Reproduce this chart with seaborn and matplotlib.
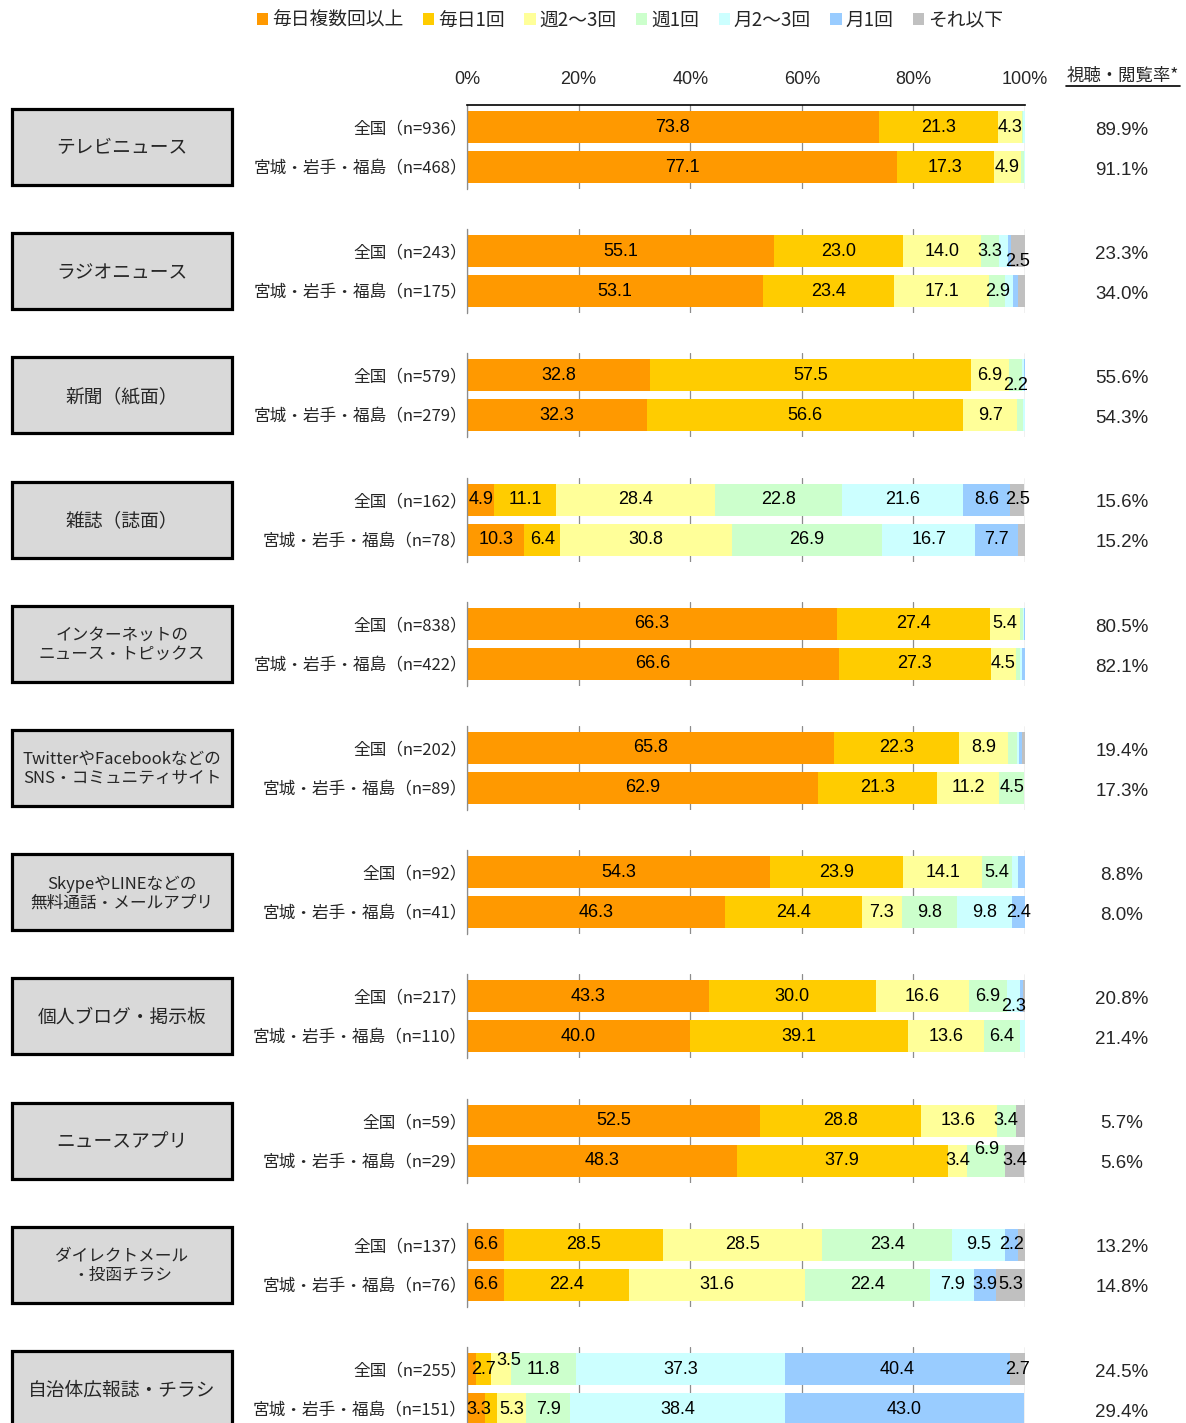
import numpy as np
import pandas as pd
import matplotlib
matplotlib.use("Agg")
import matplotlib.pyplot as plt
import matplotlib.transforms as mtransforms
from matplotlib.patches import Rectangle, Patch
from matplotlib.lines import Line2D
import seaborn as sns

sns.set_theme(style="white")
plt.rcParams["font.family"] = ["Noto Sans CJK JP", "DejaVu Sans"]

# ---- data -------------------------------------------------------------
frequency = ["毎日複数回以上", "毎日1回", "週2～3回", "週1回", "月2～3回", "月1回", "それ以下"]
colors = ["#FF9900", "#FFCC00", "#FFFF99", "#CCFFCC", "#CCFFFF", "#99CCFF", "#C0C0C0"]

media = [
    "テレビニュース",
    "ラジオニュース",
    "新聞（紙面）",
    "雑誌（誌面）",
    "インターネットの\nニュース・トピックス",
    "TwitterやFacebookなどの\nSNS・コミュニティサイト",
    "SkypeやLINEなどの\n無料通話・メールアプリ",
    "個人ブログ・掲示板",
    "ニュースアプリ",
    "ダイレクトメール\n・投函チラシ",
    "自治体広報誌・チラシ",
]
regions = ["全国", "宮城・岩手・福島"]
n_national = [936, 243, 579, 162, 838, 202, 92, 217, 59, 137, 255]
n_tohoku = [468, 175, 279, 78, 422, 89, 41, 110, 29, 76, 151]

# shares (%) per frequency class: [national, tohoku]
tv_news = [[73.8, 21.3, 4.3, 0.2, 0.4, 0.0, 0.0], [77.1, 17.3, 4.9, 0.5, 0.2, 0.0, 0.0]]
radio_news = [[55.1, 23.0, 14.0, 3.3, 1.5, 0.6, 2.5], [53.1, 23.4, 17.1, 2.9, 1.4, 0.9, 1.2]]
newspaper = [[32.8, 57.5, 6.9, 2.2, 0.4, 0.2, 0.0], [32.3, 56.6, 9.7, 1.1, 0.3, 0.0, 0.0]]
magazine = [[4.9, 11.1, 28.4, 22.8, 21.6, 8.6, 2.5], [10.3, 6.4, 30.8, 26.9, 16.7, 7.7, 1.3]]
internet_news = [[66.3, 27.4, 5.4, 0.5, 0.2, 0.2, 0.0], [66.6, 27.3, 4.5, 0.7, 0.4, 0.5, 0.0]]
sns_sites = [[65.8, 22.3, 8.9, 1.5, 0.5, 0.5, 0.5], [62.9, 21.3, 11.2, 4.5, 0.0, 0.0, 0.0]]
messaging_apps = [[54.3, 23.9, 14.1, 5.4, 1.1, 1.2, 0.0], [46.3, 24.4, 7.3, 9.8, 9.8, 2.4, 0.0]]
blogs = [[43.3, 30.0, 16.6, 6.9, 2.3, 0.5, 0.4], [40.0, 39.1, 13.6, 6.4, 0.9, 0.0, 0.0]]
news_apps = [[52.5, 28.8, 13.6, 3.4, 0.0, 0.0, 1.7], [48.3, 37.9, 3.4, 6.9, 0.0, 0.0, 3.4]]
direct_mail = [[6.6, 28.5, 28.5, 23.4, 9.5, 2.2, 1.3], [6.6, 22.4, 31.6, 22.4, 7.9, 3.9, 5.3]]
municipal_pr = [[1.6, 2.7, 3.5, 11.8, 37.3, 40.4, 2.7], [3.3, 2.0, 5.3, 7.9, 38.4, 43.0, 0.0]]

shares = [tv_news, radio_news, newspaper, magazine, internet_news, sns_sites,
          messaging_apps, blogs, news_apps, direct_mail, municipal_pr]

rate_national = [89.9, 23.3, 55.6, 15.6, 80.5, 19.4, 8.8, 20.8, 5.7, 13.2, 24.5]
rate_tohoku = [91.1, 34.0, 54.3, 15.2, 82.1, 17.3, 8.0, 21.4, 5.6, 14.8, 29.4]

# label nudges for crowded segments: (media, row, class) -> (dx in %, dy in rows)
label_nudge = {
    (1, 0, 6): (0.0, 0.25),
    (2, 0, 3): (0.0, 0.25),
    (7, 0, 4): (0.0, 0.25),
    (8, 1, 3): (0.0, -0.28),
    (10, 0, 2): (1.5, -0.22),
    (10, 1, 0): (0.5, 0.0),
}

# ---- layout (pixels) --------------------------------------------------
W, H = 1186, 1423
fig = plt.figure(figsize=(W / 100, H / 100), dpi=100)

x0, x1 = 467, 1025
first_top = 105
step = 124.2
ax_h = 84
num_font = ["Liberation Sans", "DejaVu Sans"]

def fx(px):
    return px / W

def fy(py):
    return 1 - py / H

for i, name in enumerate(media):
    top = first_top + step * i
    ax = fig.add_axes([fx(x0), fy(top + ax_h), fx(x1 - x0), ax_h / H])
    vals = np.array(shares[i], dtype=float)
    cum = np.cumsum(vals, axis=1)
    row_labels = [f"{regions[0]}（n={n_national[i]}）", f"{regions[1]}（n={n_tohoku[i]}）"]

    # stacked bars: draw cumulative totals from the outermost class inward
    for k in range(len(frequency) - 1, -1, -1):
        df = pd.DataFrame({"cum": cum[:, k], "row": row_labels})
        sns.barplot(data=df, x="cum", y="row", orient="h", color=colors[k],
                    saturation=1, width=0.8, linewidth=0, errorbar=None, ax=ax)

    # segment value labels
    for r in range(2):
        for k in range(len(frequency)):
            v = vals[r, k]
            if v < 2.2:
                continue
            dx, dy = label_nudge.get((i, r, k), (0.0, 0.0))
            cx = cum[r, k] - v / 2 + dx
            ax.text(cx, r + dy, f"{v:.1f}", ha="center", va="center",
                    fontsize=13, family=num_font, color="black", clip_on=False)

    ax.set_xlim(0, 100)
    ax.set_ylim(1.55, -0.55)
    ax.set_xlabel("")
    ax.set_ylabel("")
    ax.set_xticks(range(0, 101, 20))
    ax.grid(axis="x", color="#8c8c8c", linewidth=0.9)
    ax.grid(axis="y", visible=False)
    ax.set_axisbelow(True)
    ax.tick_params(axis="y", length=0, pad=0, labelsize=12)
    for sp in ["right", "bottom"]:
        ax.spines[sp].set_visible(False)
    ax.spines["left"].set_color("#8c8c8c")
    ax.spines["left"].set_linewidth(0.9)
    if i == 0:
        ax.xaxis.tick_top()
        ax.set_xticklabels([f"{t}%" for t in range(0, 101, 20)], family=num_font)
        ax.tick_params(axis="x", length=0, pad=12, labelsize=13)
        ax.spines["top"].set_color("black")
        ax.spines["top"].set_linewidth(1.2)
    else:
        ax.spines["top"].set_visible(False)
        ax.tick_params(axis="x", length=0, labelbottom=False, labeltop=False)

    # viewing rate column
    trans = mtransforms.blended_transform_factory(fig.transFigure, ax.transData)
    for r, rate in enumerate([rate_national[i], rate_tohoku[i]]):
        ax.text(fx(1122), r + 0.08, f"{rate:.1f}%", transform=trans, ha="center",
                va="center", fontsize=13.5, family=num_font, clip_on=False)

    # media name box
    cy = top + 42
    box = Rectangle((fx(12), fy(cy + 38)), fx(220), 76 / H, transform=fig.transFigure,
                    facecolor="#D9D9D9", edgecolor="black", linewidth=2.3)
    fig.add_artist(box)
    two_line = "\n" in name
    fig.text(fx(122), fy(cy + 1), name, ha="center", va="center",
             fontsize=12 if two_line else 13.5, linespacing=1.15)

# header of the rate column
fig.text(fx(1123), fy(76), "視聴・閲覧率*", ha="center", va="center", fontsize=12.5)
fig.add_artist(Line2D([fx(1066), fx(1180)], [fy(86), fy(86)], color="black",
                      linewidth=1.2, transform=fig.transFigure))

# legend
handles = [Patch(facecolor=c, edgecolor="none") for c in colors]
fig.legend(handles, frequency, loc="center", bbox_to_anchor=(fx(630), fy(20)),
           ncol=7, frameon=False, fontsize=13.5, handlelength=0.6, handleheight=0.6,
           handletextpad=0.2, columnspacing=1.05, borderaxespad=0)

fig.savefig("out.png", dpi=100)
